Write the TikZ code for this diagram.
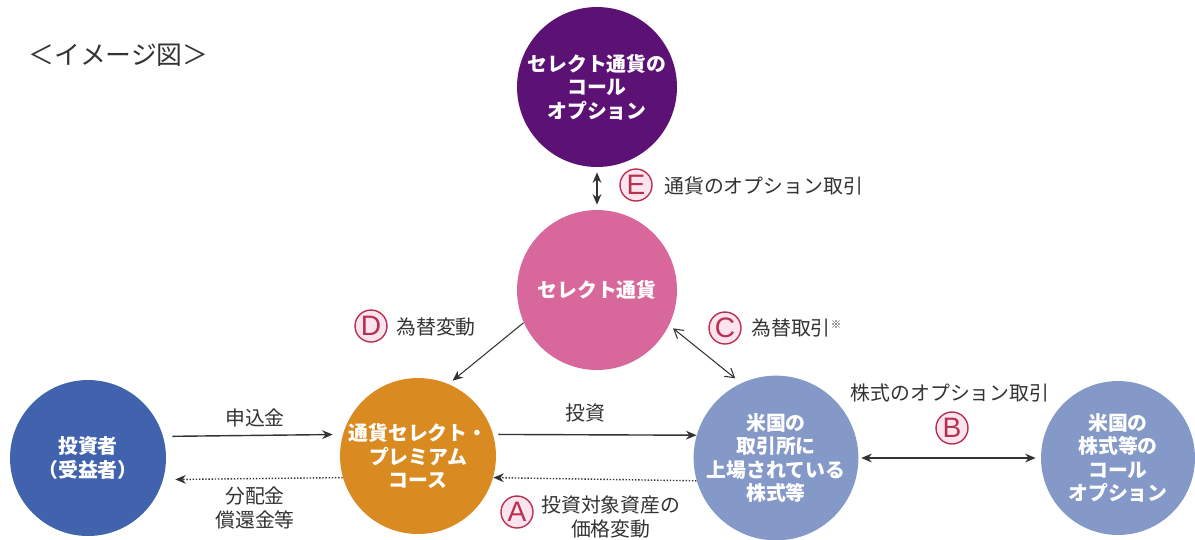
\documentclass[tikz,border=0pt]{standalone}
\usepackage{fontspec}
\setmainfont{Noto Sans CJK JP}
\newfontfamily\latf{Liberation Sans}
\usetikzlibrary{arrows.meta}
\definecolor{cpurple}{HTML}{5C1174}
\definecolor{cpink}{HTML}{D8689C}
\definecolor{cblue}{HTML}{4163AE}
\definecolor{corange}{HTML}{D98B21}
\definecolor{cgray}{HTML}{8599C9}
\definecolor{ctext}{HTML}{333333}
\definecolor{cred}{HTML}{B8304F}
\definecolor{cpinklt}{HTML}{FCE4EE}
\begin{document}
\begin{tikzpicture}[x=0.02cm,y=-0.02cm,
  ball/.style={circle,draw=none,inner sep=0pt,align=center,text=white,
    font=\fontsize{11.3}{13.4}\selectfont\bfseries},
  lab/.style={align=center,text=ctext,inner sep=0pt,font=\fontsize{11.3}{13.6}\selectfont},
  letter/.style={circle,draw=cred,line width=0.8pt,fill=cpinklt,text=cred,
    minimum size=0.64cm,inner sep=0pt,font=\latf\fontsize{16}{16}\selectfont},
  arr/.style={line width=0.8pt,draw=ctext,-{Stealth[length=6pt,width=5pt]}},
  darr/.style={line width=0.8pt,draw=ctext,{Stealth[length=6pt,width=5pt]}-{Stealth[length=6pt,width=5pt]}},
  dotarr/.style={line width=0.8pt,draw=ctext,densely dotted,-{Stealth[length=6pt,width=5pt]}},
  barb/.style={line width=0.6pt,draw=ctext,{Straight Barb[length=5pt,width=6pt]}-{Straight Barb[length=5pt,width=6pt]}}
]
\useasboundingbox (0,0) rectangle (1195,539);

\node[lab,anchor=west,font=\fontsize{14.7}{16}\selectfont] (title) at (28,55) {＜イメージ図＞};

\node[ball,fill=cpurple,minimum size=3.2cm] (opt) at (597,87) {セレクト通貨の\\コール\\オプション};
\node[ball,fill=cpink,minimum size=3.2cm] (sel) at (597,290) {セレクト通貨};
\node[ball,fill=cblue,minimum size=3.12cm] (inv) at (88,458) {投資者\\（受益者）};
\node[ball,fill=corange,minimum size=3.12cm] (fund) at (418,456) {通貨セレクト・\\プレミアム\\コース};
\node[ball,fill=cgray,minimum size=3.2cm] (us) at (776,458) {米国の\\取引所に\\上場されている\\株式等};
\node[ball,fill=cgray,minimum size=3.08cm] (usopt) at (1118,458) {米国の\\株式等の\\コール\\オプション};

% connectors
\draw[arr,shorten <=0.18cm,shorten >=0.2cm] (inv.16) -- (fund.164);
\draw[dotarr,shorten >=0.24cm] (fund.196) -- (inv.-16);
\draw[arr,shorten <=0.1cm] (fund.16) -- (us.164);
\draw[dotarr] (us.196) -- (fund.-16);
\draw[arr,line width=0.6pt,shorten >=0.1cm] (sel.204) -- (fund.67);
\draw[barb,shorten <=0.1cm,shorten >=0.15cm] (sel.-26) -- (us.115);
\draw[darr,shorten <=0.1cm,shorten >=0.1cm] (opt.south) -- (sel.north);
\draw[darr,shorten <=0.05cm,shorten >=0.1cm] (us.east) -- (usopt.west);

% labels
\node[lab] (l1) at (255,418) {申込金};
\node[lab] (l2) at (255,508) {分配金\\償還金等};
\node[lab] (l3) at (585,413) {投資};
\node[letter] (la) at (517,512) {A};
\node[lab,anchor=west] (l4) at (541,517) {投資対象資産の\\価格変動};
\node[letter] (ld) at (371,326) {D};
\node[lab,anchor=west] (l5) at (396,327) {為替変動};
\node[letter] (lc) at (725,328) {C};
\node[lab,anchor=west] (l6) at (751,328) {為替取引\textsuperscript{\fontsize{6}{6}\selectfont ※}};
\node[letter] (le) at (636,185) {E};
\node[lab,anchor=west] (l7) at (664,186) {通貨のオプション取引};
\node[letter] (lb) at (952,428) {B};
\node[lab] (l8) at (950,393) {株式のオプション取引};
\end{tikzpicture}
\end{document}
